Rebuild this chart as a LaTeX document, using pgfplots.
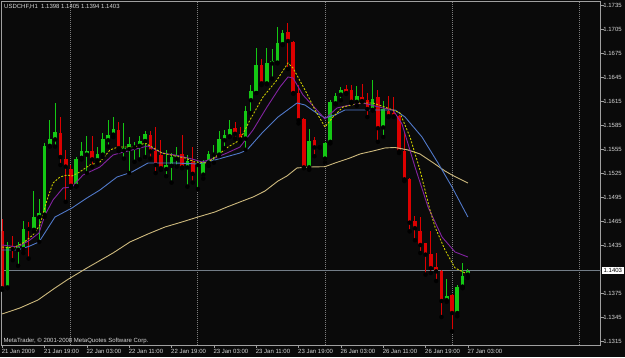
\documentclass[border=0pt]{standalone}
\usepackage{fontspec}
\setmainfont{Liberation Sans}
\usepackage{pgfplots}
\usepackage{pgfplotstable}
\pgfplotsset{compat=1.18}
\definecolor{bg}{RGB}{10,10,10}
\definecolor{bull}{RGB}{20,200,20}
\definecolor{bear}{RGB}{220,0,0}
\definecolor{mayel}{RGB}{200,200,0}
\definecolor{mapur}{RGB}{130,35,160}
\definecolor{mablu}{RGB}{80,120,200}
\definecolor{matan}{RGB}{205,185,125}
\definecolor{lbl}{RGB}{215,215,215}
\definecolor{gridc}{RGB}{125,125,125}
\definecolor{frame}{RGB}{160,160,160}
\definecolor{pline}{RGB}{115,125,135}
\newcommand\mtfont{\fontsize{6}{7}\selectfont}

\pgfplotstableread{
i O H L C
1 1.1382 1.1439 1.1381 1.1433
3 1.1429 1.1439 1.1409 1.1432
4 1.1430 1.1465 1.1425 1.1455
6 1.1454 1.1502 1.1452 1.1470
7 1.1470 1.1493 1.1439 1.1475
8 1.1473 1.1563 1.1470 1.1559
9 1.1559 1.1591 1.1558 1.1568
10 1.1567 1.1613 1.1558 1.1576
14 1.1509 1.1545 1.1508 1.1543
15 1.1544 1.1564 1.1542 1.1552
16 1.1548 1.1571 1.1525 1.1552
18 1.1541 1.1558 1.1537 1.1549
19 1.1548 1.1575 1.1545 1.1567
20 1.1566 1.1591 1.1558 1.1573
21 1.1573 1.1595 1.1570 1.1580
23 1.1553 1.1587 1.1543 1.1556
24 1.1555 1.1570 1.1525 1.1561
25 1.1557 1.1564 1.1539 1.1559
26 1.1559 1.1571 1.1542 1.1565
27 1.1565 1.1577 1.1545 1.1574
31 1.1530 1.1554 1.1521 1.1535
32 1.1534 1.1550 1.1513 1.1545
33 1.1543 1.1557 1.1533 1.1548
35 1.1532 1.1548 1.1508 1.1540
37 1.1535 1.1540 1.1505 1.1537
38 1.1523 1.1541 1.1518 1.1537
39 1.1538 1.1553 1.1534 1.1549
40 1.1548 1.1560 1.1538 1.1550
41 1.1548 1.1578 1.1546 1.1567
42 1.1566 1.1579 1.1556 1.1573
43 1.1571 1.1591 1.1570 1.1580
46 1.1568 1.1609 1.1554 1.1603
47 1.1616 1.1635 1.1600 1.1628
48 1.1625 1.1681 1.1625 1.1660
50 1.1637 1.1681 1.1636 1.1662
51 1.1662 1.1680 1.1643 1.1665
52 1.1663 1.1708 1.1662 1.1688
53 1.1686 1.1704 1.1685 1.1700
58 1.1532 1.1580 1.1529 1.1565
60 1.1557 1.1559 1.1557 1.1558
61 1.1543 1.1564 1.1538 1.1563
62 1.1564 1.1616 1.1562 1.1614
63 1.1612 1.1625 1.1611 1.1621
64 1.1623 1.1633 1.1616 1.1629
67 1.1614 1.1634 1.1609 1.1621
70 1.1604 1.1641 1.1603 1.1617
72 1.1582 1.1615 1.1570 1.1605
84 1.1366 1.1393 1.1364 1.1371
86 1.1350 1.1385 1.1346 1.1382
87 1.1383 1.1413 1.1381 1.1396
88 1.1398 1.1405 1.1394 1.1403
}\bulltab

\pgfplotstableread{
i O H L C
0 1.1452 1.1468 1.1379 1.1381
2 1.1434 1.1446 1.1416 1.1430
5 1.1457 1.1464 1.1418 1.1455
11 1.1575 1.1595 1.1535 1.1545
12 1.1543 1.1554 1.1489 1.1533
13 1.1530 1.1535 1.1507 1.1509
17 1.1553 1.1571 1.1533 1.1542
22 1.1579 1.1589 1.1552 1.1556
28 1.1573 1.1577 1.1543 1.1552
29 1.1552 1.1583 1.1525 1.1535
30 1.1548 1.1566 1.1529 1.1531
34 1.1549 1.1573 1.1531 1.1532
36 1.1539 1.1558 1.1513 1.1524
44 1.1581 1.1589 1.1568 1.1574
45 1.1574 1.1583 1.1564 1.1567
49 1.1660 1.1668 1.1635 1.1637
54 1.1701 1.1713 1.1655 1.1690
55 1.1689 1.1690 1.1624 1.1625
56 1.1625 1.1635 1.1587 1.1591
57 1.1593 1.1594 1.1531 1.1532
59 1.1566 1.1570 1.1546 1.1557
65 1.1630 1.1635 1.1624 1.1625
66 1.1629 1.1635 1.1612 1.1614
68 1.1620 1.1636 1.1614 1.1615
69 1.1616 1.1625 1.1595 1.1605
71 1.1620 1.1629 1.1564 1.1581
73 1.1603 1.1621 1.1595 1.1596
74 1.1600 1.1620 1.1595 1.1596
75 1.1596 1.1598 1.1550 1.1552
76 1.1552 1.1575 1.1515 1.1517
77 1.1518 1.1519 1.1452 1.1463
78 1.1465 1.1471 1.1441 1.1456
79 1.1453 1.1470 1.1425 1.1435
80 1.1437 1.1438 1.1398 1.1423
81 1.1424 1.1452 1.1400 1.1406
82 1.1407 1.1425 1.1390 1.1402
83 1.1403 1.1404 1.1345 1.1365
85 1.1373 1.1374 1.1327 1.1350
}\beartab

\begin{document}
\begin{tikzpicture}
\fill[bg] (0,0) rectangle (625pt,-357pt);
\path[use as bounding box] (0,0) rectangle (625pt,-357pt);
\begin{axis}[
  at={(1.5pt,-1pt)}, anchor=north west,
  scale only axis, width=599.2pt, height=344pt,
  xmin=-0.132, xmax=113.1, ymin=1.1310, ymax=1.1740,
  axis line style={draw=frame, line width=0.8pt},
  tick align=outside, major tick length=3pt,
  tick style={draw=frame, line width=0.6pt},
  xtick pos=bottom, ytick pos=right, yticklabel pos=right,
  xtick={0,8,16,24,32,40,48,56,64,72,80,88},
  xticklabels={21 Jan 2009,21 Jan 19:00,22 Jan 03:00,22 Jan 11:00,22 Jan 19:00,23 Jan 03:00,23 Jan 11:00,23 Jan 19:00,26 Jan 03:00,26 Jan 11:00,26 Jan 19:00,27 Jan 03:00},
  ytick={1.1315,1.1345,1.1375,1.1435,1.1465,1.1495,1.1525,1.1555,1.1585,1.1615,1.1645,1.1675,1.1705,1.1735},
  yticklabels={1.1315,1.1345,1.1375,1.1435,1.1465,1.1495,1.1525,1.1555,1.1585,1.1615,1.1645,1.1675,1.1705,1.1735},
  ticklabel style={font=\mtfont, text=lbl, inner sep=1pt},
  xticklabel style={anchor=north west, xshift=-1.5pt},
  yticklabel style={anchor=west, xshift=-1.5pt},
  axis background/.style={fill=bg},
]
% grid (day separators)
\addplot[gridc, dash pattern=on 1pt off 1pt, line width=1pt] coordinates {(13,1.1310) (13,1.1740)};
\addplot[gridc, dash pattern=on 1pt off 1pt, line width=1pt] coordinates {(37,1.1310) (37,1.1740)};
\addplot[gridc, dash pattern=on 1pt off 1pt, line width=1pt] coordinates {(61,1.1310) (61,1.1740)};
\addplot[gridc, dash pattern=on 1pt off 1pt, line width=1pt] coordinates {(85,1.1310) (85,1.1740)};
\addplot[gridc, dash pattern=on 1pt off 1pt, line width=1pt] coordinates {(109,1.1310) (109,1.1740)};
% current price line
\addplot[pline, line width=0.8pt] coordinates {(-1,1.1403) (114,1.1403)};
% wicks
\addplot[only marks, mark=none, error bars/.cd, y dir=plus, y explicit, error mark=none,
  error bar style={draw=bull, solid, line width=1pt}]
  table[x=i, y=L, y error plus expr=\thisrow{H}-\thisrow{L}] {\bulltab};
\addplot[only marks, mark=none, error bars/.cd, y dir=plus, y explicit, error mark=none,
  error bar style={draw=bear, solid, line width=1pt}]
  table[x=i, y=L, y error plus expr=\thisrow{H}-\thisrow{L}] {\beartab};
% bodies
\addplot[only marks, mark=none, error bars/.cd, y dir=plus, y explicit, error mark=none,
  error bar style={draw=bull, solid, line width=3.6pt}]
  table[x=i, y=O, y error plus expr=\thisrow{C}-\thisrow{O}] {\bulltab};
\addplot[only marks, mark=none, error bars/.cd, y dir=plus, y explicit, error mark=none,
  error bar style={draw=bear, solid, line width=3.6pt}]
  table[x=i, y=C, y error plus expr=\thisrow{O}-\thisrow{C}] {\beartab};
% long MA (tan)
\addplot[matan, line width=0.9pt] coordinates {
(0,1.13488) (3.36,1.13563) (6.77,1.13663) (9.98,1.13813) (12.25,1.13913) (16.02,1.14063)
(20.94,1.14250) (24.15,1.14388) (27.55,1.14488) (30.76,1.14575) (33.98,1.14638) (37.0,1.14700)
(40.21,1.14763) (42.48,1.14825) (44.94,1.14888) (47.40,1.14950) (49.66,1.15025) (52.12,1.15150)
(53.82,1.15213) (55.71,1.15313) (58.17,1.15325) (61.0,1.15329) (62.89,1.15375) (65.73,1.15438)
(67.62,1.15488) (70.07,1.15525) (72.34,1.15563) (74.23,1.15569) (76.69,1.15538) (78.95,1.15488)
(81.22,1.15388) (83.68,1.15275) (85.0,1.15225) (88,1.15125)};
% blue MA
\addplot[mablu, line width=0.9pt] coordinates {
(0,1.14288) (2.99,1.14288) (5.25,1.14338) (6.95,1.14388) (9.98,1.14700) (13.19,1.14813)
(16.02,1.14938) (18.48,1.15038) (21.69,1.15200) (24.53,1.15263) (27.55,1.15375) (32.66,1.15375)
(37.0,1.15363) (40.21,1.15413) (44.94,1.15500) (46.26,1.15538) (49.10,1.15750) (52.12,1.15950)
(55.71,1.16125) (57.22,1.16100) (59.11,1.16013) (61.0,1.15938) (62.89,1.15975) (64.78,1.16038)
(66.67,1.16038) (74.23,1.16038) (76.12,1.15950) (79.33,1.15700) (82.36,1.15375) (85.0,1.15075)
(88,1.14700)};
% purple MA
\addplot[mapur, line width=0.9pt] coordinates {
(0,1.14350) (2.99,1.14325) (5.25,1.14413) (6.95,1.14500) (8.09,1.14725) (9.60,1.14913)
(11.49,1.15063) (13.19,1.15075) (15.27,1.15225) (18.48,1.15325) (20.94,1.15475) (22.26,1.15500)
(27.55,1.15588) (30.20,1.15500) (32.66,1.15475) (35.87,1.15425) (37.76,1.15388) (40.21,1.15438)
(42.48,1.15500) (44.94,1.15575) (47.40,1.15788) (50.04,1.16075) (52.50,1.16325) (54.01,1.16450)
(54.95,1.16438) (56.84,1.16225) (59.11,1.16063) (61.0,1.15925) (63.27,1.16063) (65.73,1.16100)
(68.18,1.16125) (71.96,1.16063) (73.85,1.16038) (75.55,1.15863) (78.01,1.15325) (80.47,1.14825)
(83.11,1.14450) (85.57,1.14263) (88,1.14200)};
% yellow dashed MA
\addplot[mayel, line width=0.9pt, dash pattern=on 2pt off 1.5pt] coordinates {
(0,1.14325) (2.04,1.14313) (3.93,1.14375) (5.82,1.14475) (7.14,1.14600) (8.47,1.14913)
(9.60,1.15125) (10.92,1.15200) (12.25,1.15225) (13.19,1.15213) (14.32,1.15250) (16.59,1.15350)
(18.48,1.15388) (20.37,1.15538) (21.88,1.15575) (25.10,1.15575) (26.99,1.15625) (28.31,1.15575)
(30.20,1.15500) (32.66,1.15463) (34.54,1.15438) (36.43,1.15388) (38.70,1.15375) (40.78,1.15475)
(42.67,1.15575) (44.94,1.15663) (46.83,1.15913) (49.28,1.16200) (51.93,1.16413) (54.01,1.16625)
(54.95,1.16563) (57.22,1.16288) (59.11,1.16038) (61.0,1.15825) (62.51,1.15950) (64.40,1.16075)
(67.62,1.16125) (70.07,1.16125) (73.85,1.16038) (75.17,1.16000) (77.06,1.15700) (78.95,1.15288)
(80.84,1.14788) (81.79,1.14575) (83.68,1.14288) (85.57,1.14063) (87.46,1.14000) (88,1.14000)};
\end{axis}
\node[anchor=west, font=\mtfont, text=lbl, inner sep=0pt] at (4pt,-7pt) {USDCHF,H1\ \ 1.1398 1.1405 1.1394 1.1403};
\node[anchor=west, font=\mtfont, text=lbl, inner sep=0pt] at (3.5pt,-340.5pt) {MetaTrader, © 2001-2008 MetaQuotes Software Corp.};
\node[anchor=west, font=\mtfont, fill=white, text=black, inner xsep=1.5pt, inner ysep=1.5pt] at (602pt,-270.6pt) {1.1403};
\end{tikzpicture}
\end{document}
